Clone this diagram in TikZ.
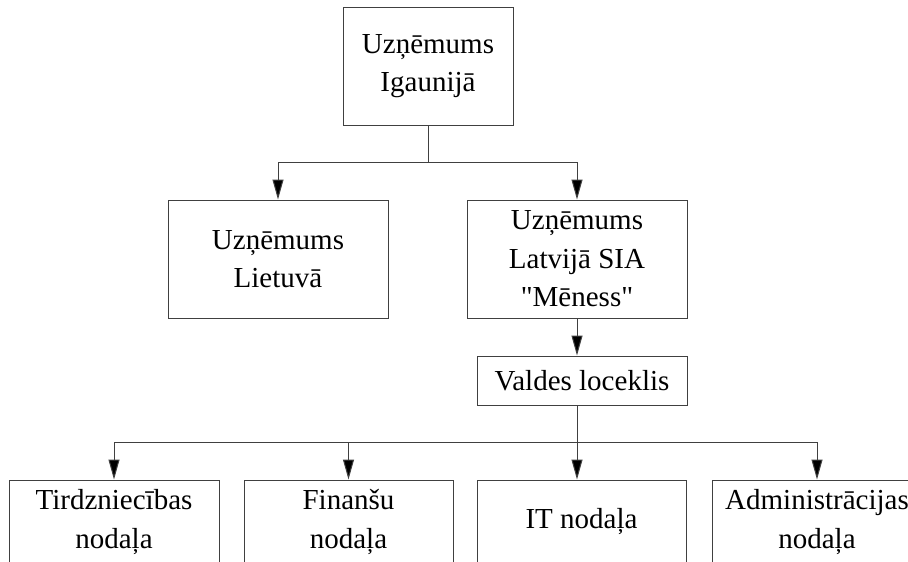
\documentclass[tikz,border=0pt]{standalone}
\usepackage{fontspec}
\setmainfont{Liberation Serif}[Ligatures=TeXOff]
\usetikzlibrary{arrows.meta}
\definecolor{ln}{HTML}{404040}
\begin{document}
\begin{tikzpicture}[x=1pt,y=-1pt,
  box/.style={draw=ln,line width=1pt,inner sep=0pt,align=center,
    font={\fontsize{29}{38.5}\selectfont},text=black},
  conn/.style={draw=ln,line width=1pt},
  arr/.style={conn,-{Triangle[length=20pt,width=11pt,fill=black]}}]
\useasboundingbox (0,0) rectangle (908,562);
\node[box,minimum width=170pt,minimum height=118pt] (top) at (428,66) {Uzņēmums\\Igaunijā};
\node[box,minimum width=220pt,minimum height=118pt] (lit) at (278,259) {Uzņēmums\\Lietuvā};
\node[box,minimum width=220pt,minimum height=118pt] (lat) at (577,259) {Uzņēmums\\Latvijā SIA\\\symbol{34}Mēness\symbol{34}};
\node[box,minimum width=210pt,minimum height=49pt] (val) at (582,380.5) {Valdes loceklis};
\node[box,minimum width=210pt,minimum height=84pt] (b1) at (114,522) {Tirdzniecības\\nodaļa};
\node[box,minimum width=209pt,minimum height=84pt] (b2) at (348.5,522) {Finanšu\\nodaļa};
\node[box,minimum width=209pt,minimum height=84pt] (b3) at (581.5,522) {IT nodaļa};
\node[box,minimum width=210pt,minimum height=84pt] (b4) at (817,522) {Administrācijas\\nodaļa};
\coordinate (j1) at (428,162);
\coordinate (j2) at (577,442);
\draw[conn] (top.south) -- (j1);
\draw[arr] (j1) -| (lit.north);
\draw[arr] (j1) -| (lat.north);
\draw[arr] (lat.south) -- (lat.south |- val.north);
\draw[conn] (lat.south |- val.south) -- (j2);
\draw[arr] (j2) -| (b1.north);
\draw[arr] (j2) -| (b2.north);
\draw[arr] (j2) -- (j2 |- b3.north);
\draw[arr] (j2) -| (b4.north);
\end{tikzpicture}
\end{document}
